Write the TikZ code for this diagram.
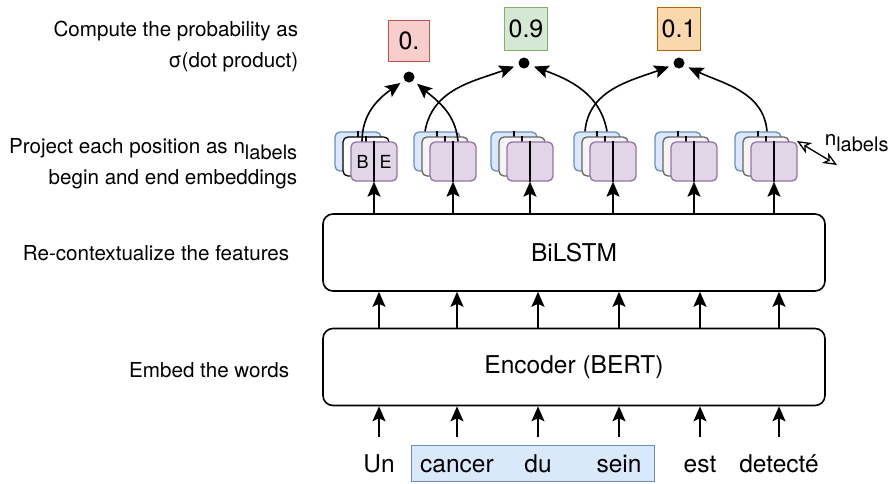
\documentclass[tikz,border=0pt]{standalone}
\usepackage{fontspec}
\setmainfont{TeX Gyre Heros}
\usepackage{tikz}
\usetikzlibrary{arrows.meta,calc}
\definecolor{embB}{HTML}{DAE8FC}
\definecolor{embBd}{HTML}{6C8EBF}
\definecolor{embG}{HTML}{F5F5F5}
\definecolor{embGd}{HTML}{666666}
\definecolor{embP}{HTML}{E1D5E7}
\definecolor{embPd}{HTML}{9673A6}
\definecolor{redF}{HTML}{F8CECC}
\definecolor{redD}{HTML}{B85450}
\definecolor{greenF}{HTML}{D5E8D4}
\definecolor{greenD}{HTML}{82B366}
\definecolor{orangeF}{HTML}{FAD7AC}
\definecolor{orangeD}{HTML}{B46504}
\newcommand\nlab{n\raisebox{-6pt}{\fontsize{20}{20}\selectfont labels}}
\tikzset{
  lbl/.style = {align=right, inner sep=0pt, anchor=east,
    font=\fontsize{20.6}{31}\selectfont},% captions on the left
  layer/.style = {draw=black, rounded corners=10pt, minimum width=502pt,
    minimum height=77pt, font=\fontsize{24.5}{28}\selectfont},% encoder, bilstm
  word/.style = {inner sep=0pt, anchor=base, text height=18pt, text depth=0pt,
    font=\fontsize{24.5}{28}\selectfont},% input tokens
  emb/.style = {rectangle, rounded corners=5pt, line width=1.3pt,
    minimum width=46pt, minimum height=39pt, inner sep=0pt},
  emb_b/.style = {emb, draw=embBd, fill=embB},% back layer
  emb_g/.style = {emb, draw=embGd, fill=embG},% middle layer
  emb_w/.style = {emb, draw=black, fill=white},% middle layer, first word
  emb_p/.style = {emb, draw=embPd, fill=embP},% front layer
  prob/.style = {rectangle, line width=1.5pt, minimum size=41pt, inner sep=0pt,
    font=\fontsize{25}{25}\selectfont},% span probability
  dotp/.style = {circle, fill=black, minimum size=11pt, inner sep=0pt,
    outer sep=5pt},% dot product
  openhead/.style = {{Stealth[open,fill=white,length=14pt,width=12pt,inset=4pt]}-{Stealth[open,fill=white,length=14pt,width=12pt,inset=4pt]}}
}

\begin{document}
\begin{tikzpicture}[x=1pt, y=1pt, line width=1.6pt,
    >={Stealth[length=15pt,width=13pt,inset=3pt]}]
    \useasboundingbox (0,0) rectangle (892,-483);

    \node[lbl] (cap1) at (299,-46.5) {Compute the probability as\\σ(dot product)};
    \node[lbl] (cap2) at (298,-163.5) {Project each position as \nlab\\begin and end embeddings};
    \node[lbl] (cap3) at (290,-253) {Re-contextualize the features};
    \node[lbl] (cap4) at (290,-370) {Embed the words};

    \node[layer] (enc) at (574,-367) {Encoder (BERT)};
    \node[layer] (lstm) at (574,-252.5) {BiLSTM};

    \node[rectangle, draw=embBd, fill=embB, line width=1.3pt, minimum width=243pt,
      minimum height=36pt] (span) at (533,-463.5) {};
    \foreach \w/\x [count=\i] in {Un/379, cancer/457, du/538, sein/619, est/700, detecté/779} {
      \node[word] (w\i) at (\x,-472) {\w};
      \draw[->, shorten <=16pt] (w\i.north) -- (w\i.north |- enc.south);
      \draw[->] (enc.north -| w\i.north) -- (lstm.south -| w\i.north);
    }

    % one stack of begin/end embeddings per word
    \foreach \i/\x/\mid in {1/374/emb_w, 2/453/emb_g, 3/530/emb_g, 4/613/emb_g, 5/694/emb_g, 6/774/emb_g} {
      \node[emb_b] (b\i) at (\x-16,-151.5) {};
      \draw[line width=1.3pt] (b\i.north) -- (b\i.south);
      \node[\mid] (g\i) at (\x-8,-156.5) {};
      \draw[line width=1.3pt] (g\i.north) -- (g\i.south);
      \node[emb_p] (p\i) at (\x,-161.5) {};
      \draw[line width=1.3pt] (p\i.north) -- (p\i.south);
      \draw[->] (lstm.north -| p\i.south) -- (p\i.south);
    }
    \node[font=\fontsize{18}{18}\selectfont] (lb) at ($(p1.center)+(-11.5,0)$) {B};
    \node[font=\fontsize{18}{18}\selectfont] (le) at ($(p1.center)+(11.5,0)$) {E};

    \node[dotp] (d1) at (409,-77) {};
    \node[dotp] (d2) at (524,-63) {};
    \node[dotp] (d3) at (679,-63) {};
    \node[prob, draw=redD, fill=redF] (s1) at (409,-41) {0.};
    \node[prob, draw=greenD, fill=greenF, minimum size=43pt] (s2) at (526,-29) {0.9};
    \node[prob, draw=orangeD, fill=orangeF, minimum size=43pt] (s3) at (679,-29) {0.1};

    \draw[->] ($(p1.north)+(-12,0)$) to[out=90, in=-145] (d1);
    \draw[->] ($(p2.north)+(5,0)$) to[out=95, in=-40] (d1);
    \draw[->] ($(b2.north)+(-12,0)$) to[out=80, in=-160] (d2);
    \draw[->] ($(b4.north)+(10,0)$) to[out=100, in=-20] (d2);
    \draw[->] ($(b4.north)+(-12,0)$) to[out=85, in=-160] (d3);
    \draw[->] ($(b6.north)+(9,0)$) to[out=95, in=-25] (d3);

    \coordinate (na) at (797,-141);
    \coordinate (nb) at (837,-165);
    \draw[openhead, line width=1.3pt] (na) -- (nb);
    \node[lbl, anchor=west] (nl) at (824,-143) {\nlab};
\end{tikzpicture}
\end{document}
